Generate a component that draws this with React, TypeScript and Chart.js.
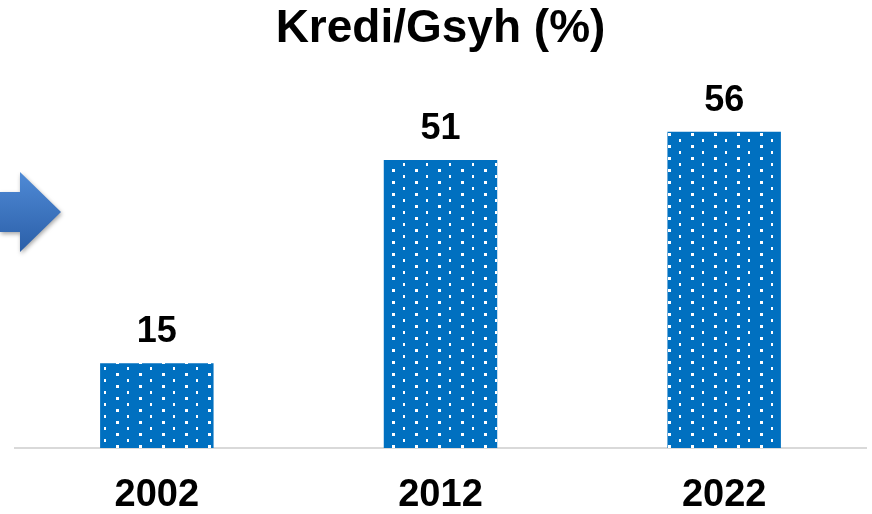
import React, { useEffect, useRef } from "react";
import { Chart, registerables } from "chart.js";

Chart.register(...registerables);

const categories = ["2002", "2012", "2022"];
const values = [15, 51, 56];
const titleText = "Kredi/Gsyh (%)";
const FONT = "'Liberation Sans', Arial, Helvetica, sans-serif";

function makePattern(): CanvasPattern | string {
  const c = document.createElement("canvas");
  c.width = 23;
  c.height = 12;
  const g = c.getContext("2d");
  if (!g) return "#0070C0";
  g.fillStyle = "#0070C0";
  g.fillRect(0, 0, 23, 12);
  g.fillStyle = "#ffffff";
  g.fillRect(1, 1, 3, 3);
  g.fillRect(12, 7, 2, 3);
  const p = g.createPattern(c, "repeat");
  return p || "#0070C0";
}

const arrowPlugin = {
  id: "arrowDeco",
  afterDraw(chart: any) {
    const ctx = chart.ctx;
    ctx.save();
    const grad = ctx.createLinearGradient(0, 172, 0, 252);
    grad.addColorStop(0, "#4f8ad6");
    grad.addColorStop(1, "#2b5fa8");
    ctx.shadowColor = "rgba(0,0,0,0.35)";
    ctx.shadowBlur = 4;
    ctx.shadowOffsetX = 1;
    ctx.shadowOffsetY = 2;
    ctx.fillStyle = grad;
    ctx.beginPath();
    ctx.moveTo(0, 192);
    ctx.lineTo(20, 192);
    ctx.lineTo(20, 172);
    ctx.lineTo(61, 212);
    ctx.lineTo(20, 252);
    ctx.lineTo(20, 232);
    ctx.lineTo(0, 232);
    ctx.closePath();
    ctx.fill();
    ctx.restore();
  },
};

const labelPlugin = {
  id: "barLabels",
  afterDatasetsDraw(chart: any) {
    const ctx = chart.ctx;
    const meta = chart.getDatasetMeta(0);
    ctx.save();
    ctx.fillStyle = "#000000";
    ctx.font = `bold 36px ${FONT}`;
    ctx.textAlign = "center";
    ctx.textBaseline = "middle";
    meta.data.forEach((bar: any, i: number) => {
      ctx.fillText(String(values[i]), bar.x, bar.y - 31);
    });
    ctx.restore();
  },
};

export default function App() {
  const ref = useRef<HTMLCanvasElement | null>(null);
  useEffect(() => {
    if (!ref.current) return;
    const chart = new Chart(ref.current, {
      type: "bar",
      data: {
        labels: categories,
        datasets: [
          {
            data: values,
            backgroundColor: makePattern() as any,
            borderWidth: 0,
            barPercentage: 0.4,
            categoryPercentage: 1,
          },
        ],
      },
      options: {
        animation: false,
        responsive: true,
        maintainAspectRatio: false,
        layout: { padding: { left: 15, right: 6, top: 0, bottom: 0 } },
        plugins: {
          legend: { display: false },
          tooltip: { enabled: false },
          title: {
            display: true,
            text: titleText,
            color: "#000000",
            font: { family: FONT, size: 46, weight: "bold" },
            padding: { top: 2, bottom: 52 },
          },
        },
        scales: {
          x: {
            grid: { display: false, drawTicks: false },
            border: { display: true, color: "#d9d9d9", width: 2 },
            ticks: {
              color: "#000000",
              padding: 25,
              maxRotation: 0,
              font: { family: FONT, size: 38, weight: "bold" },
            },
            afterFit: (scale: any) => {
              scale.height = 66;
            },
          },
          y: {
            display: false,
            min: 0,
            max: 60,
          },
        },
      },
      plugins: [arrowPlugin, labelPlugin],
    });
    return () => chart.destroy();
  }, []);
  return (
    <div style={{ position: "fixed", left: 0, top: 0, width: 872, height: 514 }}>
      <canvas ref={ref} />
    </div>
  );
}
